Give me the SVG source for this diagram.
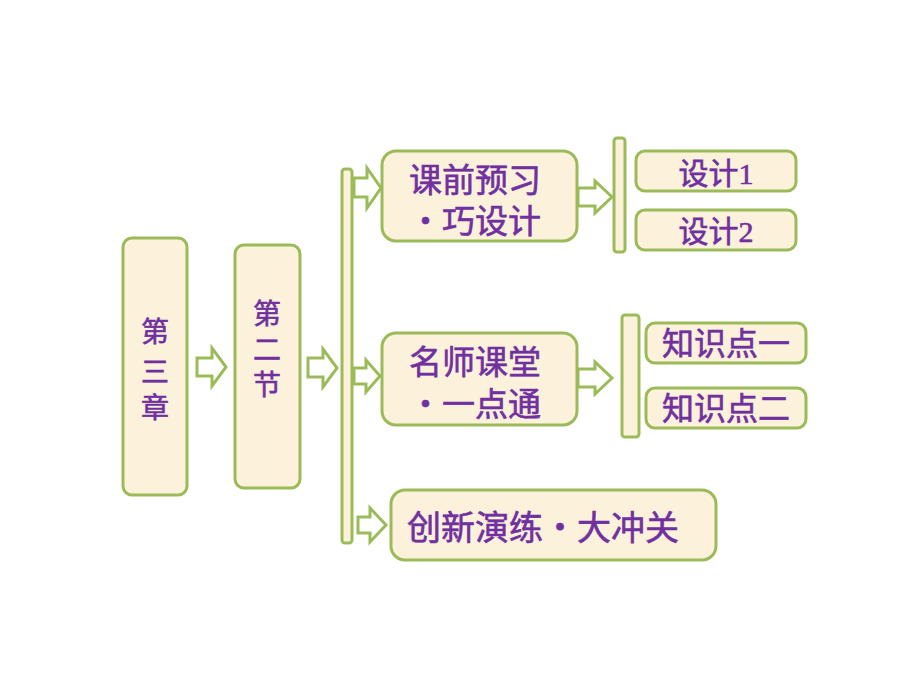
<svg xmlns="http://www.w3.org/2000/svg" width="920" height="690" viewBox="0 0 920 690">
<defs>
<style>
.box{fill:#fcf1da;stroke:#9bbb59;stroke-width:3}
.bar{fill:#fcf1da;stroke:#9bbb59;stroke-width:3}
.arr{fill:#ffffff;stroke:#9bbb59;stroke-width:3;stroke-linejoin:miter}
.t{fill:#7030a0;stroke:#7030a0;stroke-width:0.6;font-family:"Liberation Serif","Noto Sans CJK SC",serif;text-anchor:middle}
</style>
</defs>
<rect width="920" height="690" fill="#ffffff"/>
<g id="connectors">
<rect class="bar" x="342" y="169" width="10" height="374" rx="3"/>
<rect class="bar" x="614" y="138" width="11" height="114" rx="3"/>
<rect class="bar" x="622" y="315" width="17" height="122" rx="3"/>
<path class="arr" d="M197,358 H212 V348 L226,367 L212,386 V376 H197 Z"/>
<path class="arr" d="M308,358 H323 V349 L337,368 L323,387 V377 H308 Z"/>
<path class="arr" d="M354,178 H367 V168 L381,188 L367,208 V197 H354 Z"/>
<path class="arr" d="M354,368 H366 V360 L380,376 L366,392 V384 H354 Z"/>
<path class="arr" d="M358,517 H370 V508 L386,525 L370,542 V533 H358 Z"/>
<path class="arr" d="M578,188 H595 V181 L612,197 L595,213 V206 H578 Z"/>
<path class="arr" d="M578,369 H595 V362 L612,378 L595,394 V387 H578 Z"/>
</g>
<g id="n_chapter">
<rect class="box" x="123" y="238" width="64" height="257" rx="9"/>
<text class="t" font-size="28" x="155" y="342">第</text>
<text class="t" font-size="28" x="155" y="382">三</text>
<text class="t" font-size="28" x="155" y="418">章</text>
</g>
<g id="n_section">
<rect class="box" x="235" y="245" width="65" height="243" rx="9"/>
<text class="t" font-size="28" x="267" y="324">第</text>
<text class="t" font-size="28" x="267" y="360">二</text>
<text class="t" font-size="28" x="267" y="395">节</text>
</g>
<g id="n_kqyx">
<rect class="box" x="382" y="151" width="195" height="90" rx="14"/>
<text class="t" font-size="33" x="475" y="192">课前预习</text>
<text class="t" font-size="33" x="475" y="233">・巧设计</text>
</g>
<g id="n_sj1">
<rect class="box" x="636" y="151" width="160" height="40" rx="9"/>
<text class="t" font-size="30" x="716" y="184">设计1</text>
</g>
<g id="n_sj2">
<rect class="box" x="636" y="210" width="160" height="40" rx="9"/>
<text class="t" font-size="30" x="716" y="242">设计2</text>
</g>
<g id="n_mskt">
<rect class="box" x="382" y="333" width="195" height="92" rx="14"/>
<text class="t" font-size="33" x="475" y="374">名师课堂</text>
<text class="t" font-size="33" x="475" y="416">・一点通</text>
</g>
<g id="n_zsd1">
<rect class="box" x="646" y="323" width="160" height="40" rx="9"/>
<text class="t" font-size="32" x="726" y="355">知识点一</text>
</g>
<g id="n_zsd2">
<rect class="box" x="646" y="388" width="160" height="40" rx="9"/>
<text class="t" font-size="32" x="726" y="420">知识点二</text>
</g>
<g id="n_cxyl">
<rect class="box" x="391" y="490" width="325" height="70" rx="14"/>
<text class="t" font-size="34" x="543" y="540">创新演练・大冲关</text>
</g>
</svg>
